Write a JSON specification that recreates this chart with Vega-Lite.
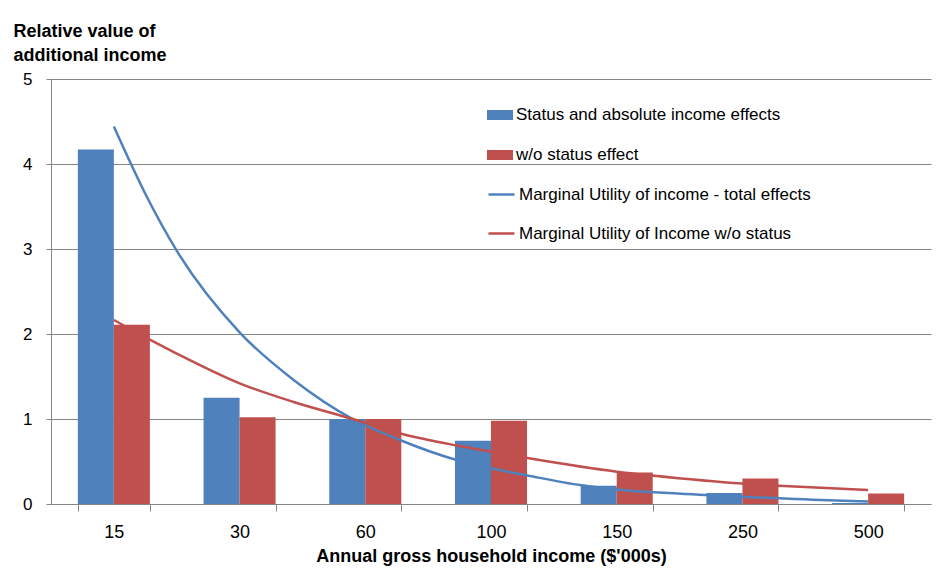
{
  "$schema": "https://vega.github.io/schema/vega-lite/v6.json",
  "width": 880,
  "height": 425,
  "autosize": {"type": "none"},
  "padding": {"left": 51, "top": 79, "right": 16, "bottom": 68},
  "background": "white",
  "config": {
    "view": {"stroke": null},
    "font": "Liberation Sans",
    "legend": {"labelFont": "Liberation Sans", "labelColor": "black"}
  },
  "datasets": {
    "bars": [
      {"income": "15", "series": "Status and absolute income effects", "value": 4.17},
      {"income": "15", "series": "w/o status effect", "value": 2.11},
      {"income": "30", "series": "Status and absolute income effects", "value": 1.25},
      {"income": "30", "series": "w/o status effect", "value": 1.02},
      {"income": "60", "series": "Status and absolute income effects", "value": 1.0},
      {"income": "60", "series": "w/o status effect", "value": 1.0},
      {"income": "100", "series": "Status and absolute income effects", "value": 0.745},
      {"income": "100", "series": "w/o status effect", "value": 0.98},
      {"income": "150", "series": "Status and absolute income effects", "value": 0.215},
      {"income": "150", "series": "w/o status effect", "value": 0.37},
      {"income": "250", "series": "Status and absolute income effects", "value": 0.13},
      {"income": "250", "series": "w/o status effect", "value": 0.30},
      {"income": "500", "series": "Status and absolute income effects", "value": 0.012},
      {"income": "500", "series": "w/o status effect", "value": 0.125}
    ],
    "curves": [
      {"pos": 0, "curve": "Marginal Utility of income - total effects", "value": 4.44},
      {"pos": 0.25, "curve": "Marginal Utility of income - total effects", "value": 3.65},
      {"pos": 0.5, "curve": "Marginal Utility of income - total effects", "value": 2.98},
      {"pos": 1.0, "curve": "Marginal Utility of income - total effects", "value": 2.02},
      {"pos": 1.43, "curve": "Marginal Utility of income - total effects", "value": 1.46},
      {"pos": 1.9, "curve": "Marginal Utility of income - total effects", "value": 1.0},
      {"pos": 2.28, "curve": "Marginal Utility of income - total effects", "value": 0.75},
      {"pos": 2.72, "curve": "Marginal Utility of income - total effects", "value": 0.52},
      {"pos": 3.0, "curve": "Marginal Utility of income - total effects", "value": 0.42},
      {"pos": 3.29, "curve": "Marginal Utility of income - total effects", "value": 0.335},
      {"pos": 3.72, "curve": "Marginal Utility of income - total effects", "value": 0.22},
      {"pos": 4.0, "curve": "Marginal Utility of income - total effects", "value": 0.17},
      {"pos": 4.74, "curve": "Marginal Utility of income - total effects", "value": 0.105},
      {"pos": 5.0, "curve": "Marginal Utility of income - total effects", "value": 0.086},
      {"pos": 5.74, "curve": "Marginal Utility of income - total effects", "value": 0.04},
      {"pos": 6.0, "curve": "Marginal Utility of income - total effects", "value": 0.03},
      {"pos": 0, "curve": "Marginal Utility of Income w/o status", "value": 2.165},
      {"pos": 0.29, "curve": "Marginal Utility of Income w/o status", "value": 1.93},
      {"pos": 0.5, "curve": "Marginal Utility of Income w/o status", "value": 1.77},
      {"pos": 1.0, "curve": "Marginal Utility of Income w/o status", "value": 1.42},
      {"pos": 1.43, "curve": "Marginal Utility of Income w/o status", "value": 1.2},
      {"pos": 1.9, "curve": "Marginal Utility of Income w/o status", "value": 1.0},
      {"pos": 2.28, "curve": "Marginal Utility of Income w/o status", "value": 0.83},
      {"pos": 2.72, "curve": "Marginal Utility of Income w/o status", "value": 0.69},
      {"pos": 3.0, "curve": "Marginal Utility of Income w/o status", "value": 0.615},
      {"pos": 3.29, "curve": "Marginal Utility of Income w/o status", "value": 0.54},
      {"pos": 4.0, "curve": "Marginal Utility of Income w/o status", "value": 0.38},
      {"pos": 4.28, "curve": "Marginal Utility of Income w/o status", "value": 0.335},
      {"pos": 5.0, "curve": "Marginal Utility of Income w/o status", "value": 0.24},
      {"pos": 5.29, "curve": "Marginal Utility of Income w/o status", "value": 0.215},
      {"pos": 6.0, "curve": "Marginal Utility of Income w/o status", "value": 0.165}
    ]
  },
  "resolve": {"scale": {"x": "independent"}},
  "layer": [
    {
      "data": {"name": "bars"},
      "mark": {"type": "bar"},
      "encoding": {
        "x": {
          "field": "income",
          "type": "nominal",
          "scale": {"domain": ["15", "30", "60", "100", "150", "250", "500"], "paddingInner": 0.427, "paddingOuter": 0.2135},
          "axis": {
            "title": "Annual gross household income ($'000s)",
            "titleFont": "Liberation Sans",
            "titleFontSize": 18,
            "titleFontWeight": "bold",
            "titleColor": "black",
            "titlePadding": 6,
            "labelAngle": 0,
            "labelFont": "Liberation Sans",
            "labelFontSize": 18,
            "labelColor": "black",
            "labelPadding": 12,
            "tickBand": "extent",
            "tickSize": 7,
            "tickColor": "#868686",
            "domainColor": "#868686",
            "grid": false
          }
        },
        "xOffset": {
          "field": "series",
          "type": "nominal",
          "scale": {"domain": ["Status and absolute income effects", "w/o status effect"], "paddingInner": 0, "paddingOuter": 0}
        },
        "y": {
          "field": "value",
          "type": "quantitative",
          "scale": {"domain": [0, 5], "nice": false},
          "axis": {
            "title": ["Relative value  of", "additional income"],
            "titleFont": "Liberation Sans",
            "titleAngle": 0,
            "titleAlign": "left",
            "titleBaseline": "alphabetic",
            "titleX": -38,
            "titleY": -43,
            "titleFontSize": 18,
            "titleFontWeight": "bold",
            "titleColor": "black",
            "titleLineHeight": 24,
            "values": [0, 1, 2, 3, 4, 5],
            "format": "d",
            "labelFont": "Liberation Sans",
            "labelFontSize": 17,
            "labelColor": "black",
            "labelPadding": 14,
            "tickSize": 5,
            "tickColor": "#868686",
            "domainColor": "#868686",
            "grid": true,
            "gridColor": "#868686",
            "gridWidth": 1
          }
        },
        "fill": {
          "field": "series",
          "type": "nominal",
          "scale": {"domain": ["Status and absolute income effects", "w/o status effect"], "range": ["#4F81BD", "#C0504D"]},
          "legend": {
            "title": null,
            "orient": "none",
            "legendX": 436,
            "legendY": 23,
            "padding": 0,
            "labelFontSize": 17,
            "labelLimit": 400,
            "labelOffset": 3,
            "rowPadding": 19,
            "symbolType": "M-1,-0.385H1V0.385H-1Z",
            "symbolSize": 676,
            "symbolStrokeWidth": 0
          }
        }
      }
    },
    {
      "data": {"name": "curves"},
      "mark": {"type": "line", "interpolate": "monotone", "strokeWidth": 2.5},
      "encoding": {
        "x": {"field": "pos", "type": "quantitative", "scale": {"domain": [-0.5, 6.5], "nice": false, "zero": false}, "axis": null},
        "y": {"field": "value", "type": "quantitative"},
        "stroke": {
          "field": "curve",
          "type": "nominal",
          "scale": {"domain": ["Marginal Utility of income - total effects", "Marginal Utility of Income w/o status"], "range": ["#4F81BD", "#C0504D"]},
          "legend": {
            "title": null,
            "orient": "none",
            "legendX": 436,
            "legendY": 101,
            "padding": 0,
            "labelFontSize": 17,
            "labelLimit": 400,
            "labelOffset": 3,
            "rowPadding": 16,
            "symbolType": "stroke",
            "symbolSize": 676,
            "symbolStrokeWidth": 2.5
          }
        }
      }
    }
  ]
}
